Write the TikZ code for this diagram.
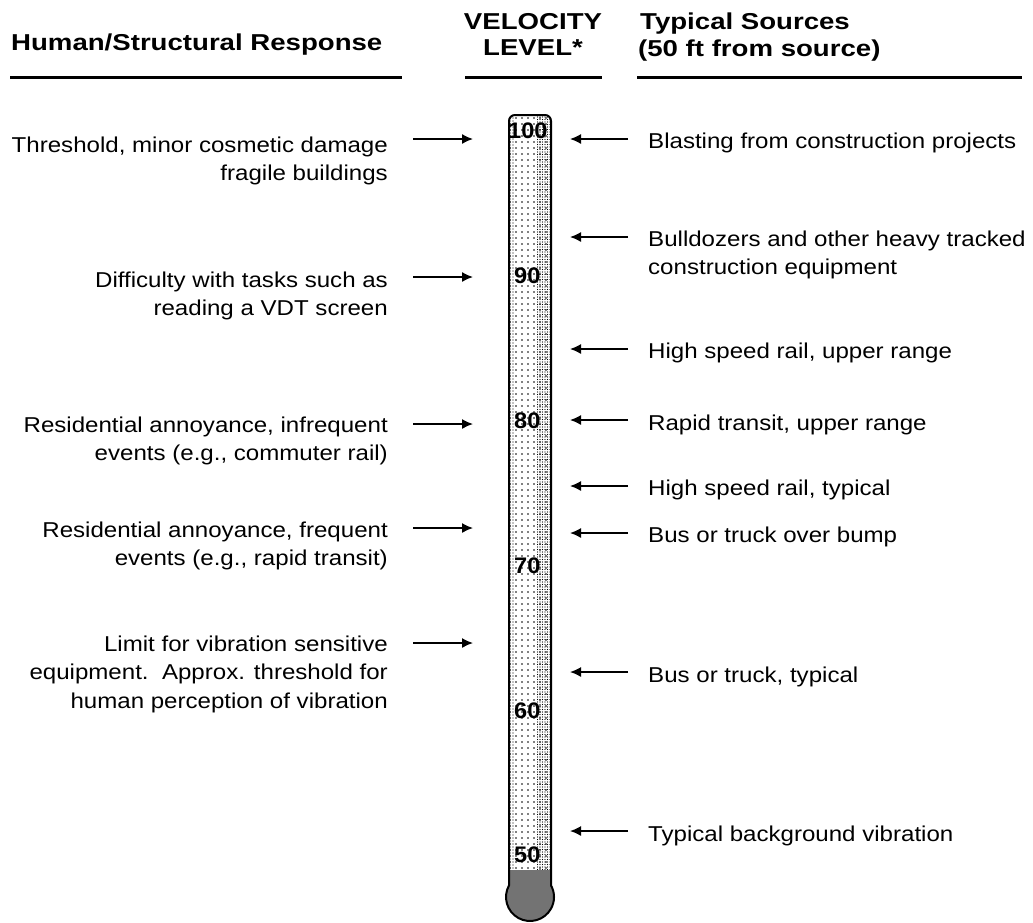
\documentclass[tikz,border=0pt]{standalone}
\usepackage{fontspec}
\setmainfont{Liberation Sans}
\newfontfamily\bodyfont{Liberation Sans}[FakeStretch=1.12]
\newfontfamily\headfont{Liberation Sans}[FakeStretch=1.2]
\newfontfamily\numfont{Liberation Sans}[FakeStretch=1.05]
\usetikzlibrary{arrows.meta,patterns.meta}
\newcommand{\tp}{\rule{0pt}{17pt}}
\begin{document}
\begin{tikzpicture}[x=1pt,y=-1pt,
  txt/.style={font=\bodyfont\fontsize{21.5}{28.5}\selectfont, inner sep=0pt},
  ltxt/.style={txt, align=right, anchor=north east},
  rtxt/.style={txt, align=left, anchor=north west},
  hdr/.style={font=\headfont\bfseries\fontsize{23}{25}\selectfont, inner sep=0pt},
  arr/.style={line width=1.5pt, -{Latex[length=11pt,width=10pt]}},
  uline/.style={line width=3pt},
  num/.style={font=\numfont\bfseries\fontsize{22.5}{22.5}\selectfont, inner sep=0pt, anchor=west},
  tube/.style={line width=2pt}
]
\useasboundingbox (0,0) rectangle (1033,922);

% headers
\node[hdr, anchor=base west] (hh) at (11,50) {Human/Structural Response};
\node[hdr, anchor=base] (hv1) at (533,29) {VELOCITY};
\node[hdr, anchor=base] (hv2) at (533,55) {LEVEL*};
\node[hdr, anchor=base west] (ht1) at (640,29) {Typical Sources};
\node[hdr, anchor=base west] (ht2) at (638,56) {(50 ft from source)};
\draw[uline] (10,77) -- (402,77);
\draw[uline] (465,77) -- (602,77);
\draw[uline] (637,77) -- (1022,77);

% thermometer
\begin{scope}
\clip (551,885.4) -- (551,121) arc[start angle=0,end angle=-90,radius=6] -- (515,115) arc[start angle=-90,end angle=-180,radius=6] -- (509,885.4) arc[start angle=208.9,end angle=-28.9,radius=24] -- cycle;
\fill[white] (500,100) rectangle (560,925);
\fill[pattern={Dots[distance=6pt,radius=0.8pt]}] (509,115) rectangle (551,870);
\fill[pattern={Dots[distance=2.5pt,radius=0.6pt]}] (537,115) rectangle (551,870);
\fill[pattern={Dots[distance=3pt,radius=0.6pt]}] (509,115) rectangle (515,870);
\fill[black!55] (500,870) rectangle (560,925);
\end{scope}
\draw[tube] (551,885.4) -- (551,121) arc[start angle=0,end angle=-90,radius=6] -- (515,115) arc[start angle=-90,end angle=-180,radius=6] -- (509,885.4) arc[start angle=208.9,end angle=-28.9,radius=24] -- cycle;

\node[num] (n100) at (508,131) {100};
\node[num] (n90) at (514,276) {90};
\node[num] (n80) at (514,420.5) {80};
\node[num] (n70) at (514,565.5) {70};
\node[num] (n60) at (514,711) {60};
\node[num] (n50) at (514,855) {50};

% left labels
\node[ltxt] (l1) at (388,135) {\tp Threshold, minor cosmetic damage\\fragile buildings};
\node[ltxt] (l2) at (388,270) {\tp Difficulty with tasks such as\\reading a VDT screen};
\node[ltxt] (l3) at (388,415) {\tp Residential annoyance, infrequent\\events (e.g., commuter rail)};
\node[ltxt] (l4) at (388,520) {\tp Residential annoyance, frequent\\events (e.g., rapid transit)};
\node[ltxt] (l5) at (388,634) {\tp Limit for vibration sensitive\\equipment.\ \ Approx. threshold for\\human perception of vibration};

\coordinate (la1) at (413,139); \coordinate (lb1) at (473,139);
\coordinate (la2) at (413,277); \coordinate (lb2) at (473,277);
\coordinate (la3) at (413,424); \coordinate (lb3) at (473,424);
\coordinate (la4) at (413,528); \coordinate (lb4) at (473,528);
\coordinate (la5) at (413,643); \coordinate (lb5) at (473,643);
\foreach \i in {1,...,5} \draw[arr] (la\i) -- (lb\i);

% right labels
\node[rtxt] (r1) at (648,131) {\tp Blasting from construction projects};
\node[rtxt] (r2) at (648,229) {\tp Bulldozers and other heavy tracked\\construction equipment};
\node[rtxt] (r3) at (648,341) {\tp High speed rail, upper range};
\node[rtxt] (r4) at (648,413) {\tp Rapid transit, upper range};
\node[rtxt] (r5) at (648,478) {\tp High speed rail, typical};
\node[rtxt] (r6) at (648,525) {\tp Bus or truck over bump};
\node[rtxt] (r7) at (648,665) {\tp Bus or truck, typical};
\node[rtxt] (r8) at (648,824) {\tp Typical background vibration};

\coordinate (ra1) at (628,139); \coordinate (rb1) at (570,139);
\coordinate (ra2) at (628,237); \coordinate (rb2) at (570,237);
\coordinate (ra3) at (628,349); \coordinate (rb3) at (570,349);
\coordinate (ra4) at (628,420); \coordinate (rb4) at (570,420);
\coordinate (ra5) at (628,486); \coordinate (rb5) at (570,486);
\coordinate (ra6) at (628,533); \coordinate (rb6) at (570,533);
\coordinate (ra7) at (628,672); \coordinate (rb7) at (570,672);
\coordinate (ra8) at (628,831); \coordinate (rb8) at (570,831);
\foreach \i in {1,...,8} \draw[arr] (ra\i) -- (rb\i);
\end{tikzpicture}
\end{document}
